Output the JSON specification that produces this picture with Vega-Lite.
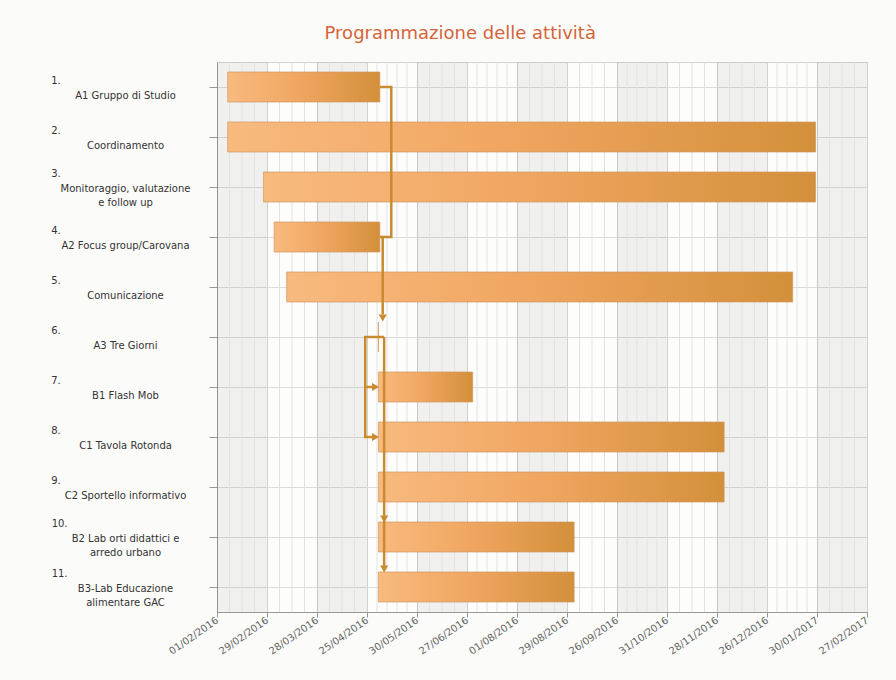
{
  "$schema": "https://vega.github.io/schema/vega-lite/v6.json",
  "width": 650,
  "height": 550,
  "autosize": {"type": "none"},
  "padding": {"left": 217, "top": 62, "right": 29, "bottom": 68},
  "background": "#fbfbf9",
  "title": {"text": "Programmazione delle attività", "font": "DejaVu Sans", "fontSize": 18, "fontWeight": "normal", "color": "#d4643a", "anchor": "middle", "frame": "bounds", "offset": 19},
  "config": {"view": {"stroke": "#d4d4d4", "fill": "#fdfdfc"}},
  "datasets": {
    "tasks": [
      {"label": "1.|A1 Gruppo di Studio", "start": "2016-02-07", "end": "2016-05-04"},
      {"label": "2.|Coordinamento", "start": "2016-02-07", "end": "2017-01-29"},
      {"label": "3.|Monitoraggio, valutazione|e follow up", "start": "2016-02-27", "end": "2017-01-29"},
      {"label": "4.|A2 Focus group/Carovana", "start": "2016-03-04", "end": "2016-05-04"},
      {"label": "5.|Comunicazione", "start": "2016-03-11", "end": "2017-01-13"},
      {"label": "6.|A3 Tre Giorni", "start": "2016-05-03", "end": "2016-05-03"},
      {"label": "7.|B1 Flash Mob", "start": "2016-05-03", "end": "2016-07-01"},
      {"label": "8.|C1 Tavola Rotonda", "start": "2016-05-03", "end": "2016-12-02"},
      {"label": "9.|C2 Sportello informativo", "start": "2016-05-03", "end": "2016-12-02"},
      {"label": "10.|B2 Lab orti didattici e|arredo urbano", "start": "2016-05-03", "end": "2016-09-02"},
      {"label": "11.|B3-Lab Educazione|alimentare GAC", "start": "2016-05-03", "end": "2016-09-02"}
    ],
    "bands": [
      {"start": "2016-02-01", "end": "2016-02-29"},
      {"start": "2016-03-28", "end": "2016-04-25"},
      {"start": "2016-05-30", "end": "2016-06-27"},
      {"start": "2016-08-01", "end": "2016-08-29"},
      {"start": "2016-09-26", "end": "2016-10-31"},
      {"start": "2016-11-28", "end": "2016-12-26"},
      {"start": "2017-01-30", "end": "2017-02-27"}
    ],
    "weeks": [
      {"start": "2016-02-08"}, {"start": "2016-02-15"}, {"start": "2016-02-22"},
      {"start": "2016-03-07"}, {"start": "2016-03-14"}, {"start": "2016-03-21"},
      {"start": "2016-04-04"}, {"start": "2016-04-11"}, {"start": "2016-04-18"},
      {"start": "2016-05-02"}, {"start": "2016-05-09"}, {"start": "2016-05-16"}, {"start": "2016-05-23"},
      {"start": "2016-06-06"}, {"start": "2016-06-13"}, {"start": "2016-06-20"},
      {"start": "2016-07-04"}, {"start": "2016-07-11"}, {"start": "2016-07-18"}, {"start": "2016-07-25"},
      {"start": "2016-08-08"}, {"start": "2016-08-15"}, {"start": "2016-08-22"},
      {"start": "2016-09-05"}, {"start": "2016-09-12"}, {"start": "2016-09-19"},
      {"start": "2016-10-03"}, {"start": "2016-10-10"}, {"start": "2016-10-17"}, {"start": "2016-10-24"},
      {"start": "2016-11-07"}, {"start": "2016-11-14"}, {"start": "2016-11-21"},
      {"start": "2016-12-05"}, {"start": "2016-12-12"}, {"start": "2016-12-19"},
      {"start": "2017-01-02"}, {"start": "2017-01-09"}, {"start": "2017-01-16"}, {"start": "2017-01-23"},
      {"start": "2017-02-06"}, {"start": "2017-02-13"}, {"start": "2017-02-20"}
    ],
    "links": [
      {"path": "A", "i": 1, "start": "2016-05-04", "r": 1},
      {"path": "A", "i": 2, "start": "2016-05-12", "r": 1},
      {"path": "A", "i": 3, "start": "2016-05-12", "r": 4},
      {"path": "A", "i": 4, "start": "2016-05-06", "r": 4},
      {"path": "A", "i": 5, "start": "2016-05-06", "r": 5.55},
      {"path": "A2", "i": 1, "start": "2016-05-04", "r": 4},
      {"path": "A2", "i": 2, "start": "2016-05-06", "r": 4},
      {"path": "B", "i": 1, "start": "2016-05-07", "r": 6},
      {"path": "B", "i": 2, "start": "2016-04-24", "r": 6},
      {"path": "B", "i": 3, "start": "2016-04-24", "r": 8},
      {"path": "B", "i": 4, "start": "2016-05-01", "r": 8},
      {"path": "C", "i": 1, "start": "2016-04-24", "r": 7},
      {"path": "C", "i": 2, "start": "2016-05-01", "r": 7},
      {"path": "D", "i": 1, "start": "2016-05-07", "r": 6},
      {"path": "D", "i": 2, "start": "2016-05-07", "r": 10.6}
    ],
    "arrows": [
      {"start": "2016-05-06", "r": 5.62, "dir": "down"},
      {"start": "2016-05-01", "r": 7, "dir": "right"},
      {"start": "2016-05-01", "r": 8, "dir": "right"},
      {"start": "2016-05-07", "r": 9.64, "dir": "down"},
      {"start": "2016-05-07", "r": 10.64, "dir": "down"}
    ]
  },
  "resolve": {"scale": {"y": "independent"}},
  "encoding": {
    "x": {
      "field": "start", "type": "temporal", "title": null,
      "scale": {
        "type": "utc",
        "nice": false,
        "domainRaw": {"expr": "[1454284800000, 1456704000000, 1459123200000, 1461542400000, 1464566400000, 1466985600000, 1470009600000, 1472428800000, 1474848000000, 1477872000000, 1480291200000, 1482710400000, 1485734400000, 1488153600000]"},
        "range": [0, 50, 100, 150, 200, 250, 300, 350, 400, 450, 500, 550, 600, 650]
      },
      "axis": {
        "values": [1454284800000, 1456704000000, 1459123200000, 1461542400000, 1464566400000, 1466985600000, 1470009600000, 1472428800000, 1474848000000, 1477872000000, 1480291200000, 1482710400000, 1485734400000, 1488153600000],
        "format": "%d/%m/%Y",
        "labelAngle": -35,
        "labelAlign": "right",
        "labelBaseline": "middle",
        "labelFont": "DejaVu Sans",
        "labelFontSize": 10,
        "labelColor": "#666666",
        "labelPadding": 2,
        "labelOverlap": false,
        "labelFlush": false,
        "labelBound": false,
        "tickColor": "#999999",
        "tickSize": 5,
        "domainColor": "#999999",
        "grid": true,
        "gridColor": "#d2d2d2"
      }
    }
  },
  "layer": [
    {
      "data": {"name": "bands"},
      "mark": {"type": "rect", "color": "#000000", "opacity": 0.05},
      "encoding": {"x2": {"field": "end"}}
    },
    {
      "data": {"name": "weeks"},
      "mark": {"type": "rule", "color": "#e3e3e3", "strokeWidth": 1},
      "encoding": {}
    },
    {
      "data": {"name": "tasks"},
      "mark": {
        "type": "bar",
        "color": {
          "gradient": "linear", "x1": 0, "x2": 1, "y1": 0, "y2": 0,
          "stops": [
            {"offset": 0, "color": "#f8ba7e"},
            {"offset": 0.45, "color": "#f1a763"},
            {"offset": 1, "color": "#d3903a"}
          ]
        },
        "stroke": "#d09a62",
        "strokeWidth": 0.7
      },
      "encoding": {
        "y": {
          "field": "label", "type": "nominal", "sort": null, "title": null,
          "scale": {"paddingInner": 0.4, "paddingOuter": 0.2},
          "axis": {
            "labelExpr": "length(split(datum.value,'|')) > 2 ? [pad(split(datum.value,'|')[0], 21, '\u2800', 'right'), split(datum.value,'|')[1], split(datum.value,'|')[2]] : [pad(split(datum.value,'|')[0], 21, '\u2800', 'right'), split(datum.value,'|')[1]]",
            "labelAlign": "center",
            "labelBaseline": "middle",
            "labelPadding": 84,
            "labelOffset": {"condition": {"test": "length(split(datum.value,'|')) > 2", "value": -13}, "value": -6},
            "labelFont": "DejaVu Sans",
            "labelFontSize": 10,
            "labelColor": "#333333",
            "labelLineHeight": 14.5,
            "labelLimit": 400,
            "tickSize": 8,
            "tickColor": "#999999",
            "domainColor": "#999999",
            "grid": true,
            "gridColor": "#dcdcdc"
          }
        },
        "x2": {"field": "end"}
      }
    },
    {
      "data": {"name": "links"},
      "mark": {"type": "line", "color": "#c98a30", "strokeWidth": 2.5, "strokeJoin": "miter"},
      "encoding": {
        "y": {"field": "r", "type": "quantitative", "axis": null, "scale": {"domain": [0.5, 11.5], "reverse": true, "nice": false, "zero": false}},
        "detail": {"field": "path"},
        "order": {"field": "i"}
      }
    },
    {
      "data": {"name": "arrows"},
      "mark": {"type": "point", "filled": true, "color": "#c98a30", "size": 65, "opacity": 1},
      "encoding": {
        "y": {"field": "r", "type": "quantitative", "axis": null, "scale": {"domain": [0.5, 11.5], "reverse": true, "nice": false, "zero": false}},
        "shape": {"field": "dir", "type": "nominal", "legend": null, "scale": {"domain": ["down", "right"], "range": ["triangle-down", "triangle-right"]}}
      }
    }
  ]
}
